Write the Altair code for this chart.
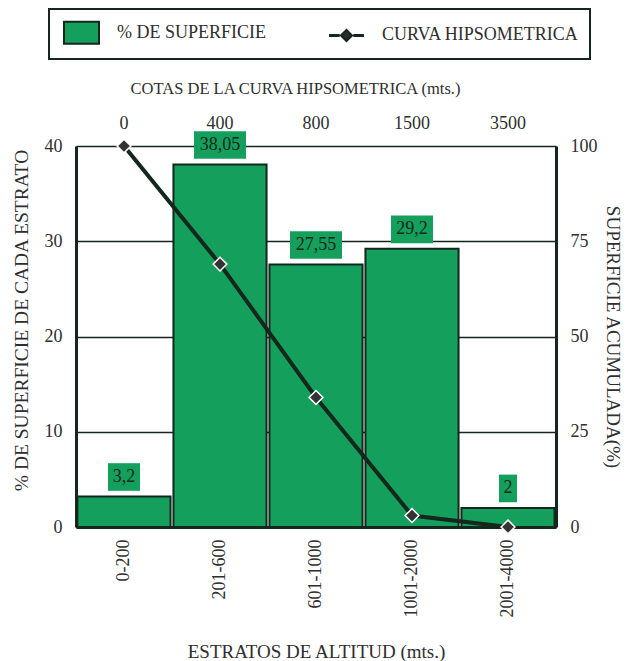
import altair as alt
import pandas as pd

# ---- data ----
estratos = ["0-200", "201-600", "601-1000", "1001-2000", "2001-4000"]
superficie = [3.2, 38.05, 27.55, 29.2, 2.0]
etiquetas = ["3,2", "38,05", "27,55", "29,2", "2"]
cotas = ["0", "400", "800", "1500", "3500"]
acumulada = [100, 69, 34, 3, 0]
series = ["% DE SUPERFICIE", "CURVA HIPSOMETRICA"]

GREEN = "#14a05c"
DARK = "#13271c"
TEXT = "#2e2e2e"
FONT = "Liberation Serif"
FS = 18

df = pd.DataFrame({"estrato": estratos, "sup": superficie, "etq": etiquetas, "acum": acumulada})
leg = pd.DataFrame({"serie": series, "estrato": [estratos[0]] * 2, "yy": [-50, -50]})

xscale = alt.Scale(domain=estratos, paddingInner=0.03, paddingOuter=0.015)
yleft = alt.Scale(domain=[0, 40])
yright = alt.Scale(domain=[0, 100])

top_expr = ("[" + ",".join(f"'{c}'" for c in cotas) + "][indexof(["
            + ",".join(f"'{e}'" for e in estratos) + "], datum.value)]")


def lab(title_size):
    return dict(labelFont=FONT, labelFontSize=FS, labelColor=TEXT,
                titleFont=FONT, titleFontSize=title_size, titleFontWeight="normal",
                titleColor=TEXT)


base = alt.Chart(df)

bars = base.mark_bar(color=GREEN, stroke=DARK, strokeWidth=2).encode(
    x=alt.X("estrato:N", scale=xscale, sort=estratos,
            axis=alt.Axis(orient="bottom", title="ESTRATOS DE ALTITUD (mts.)", labelAngle=-90,
                          ticks=False, domainColor=DARK, domainWidth=3, labelPadding=12,
                          titlePadding=26, **lab(19))),
    y=alt.Y("sup:Q", scale=yleft,
            axis=alt.Axis(orient="left", title="% DE SUPERFICIE DE CADA ESTRATO",
                          values=[0, 10, 20, 30, 40], grid=True, gridColor=DARK, gridWidth=1.5,
                          gridOpacity=1, ticks=False, domainColor=DARK, domainWidth=3,
                          labelPadding=14, titlePadding=13, titleY=174, **lab(19.5))),
)

boxes = base.transform_calculate(
    y0="datum.sup + 0.6", y1="datum.sup + 3.5", w="max(18, 10*length(datum.etq) + 2)"
).mark_bar(color=GREEN).encode(
    x=alt.X("estrato:N", scale=xscale, sort=estratos, axis=None),
    y=alt.Y("y0:Q", scale=yleft, axis=None),
    y2="y1:Q",
    size=alt.Size("w:Q", scale=None, legend=None),
)

texts = base.mark_text(font=FONT, fontSize=FS, color=DARK, baseline="middle", dy=-20).encode(
    x=alt.X("estrato:N", scale=xscale, sort=estratos, axis=None),
    y=alt.Y("sup:Q", scale=yleft, axis=None),
    text="etq:N",
)

line = base.mark_line(color=DARK, strokeWidth=4).encode(
    x=alt.X("estrato:N", scale=xscale, sort=estratos,
            axis=alt.Axis(orient="top", title="COTAS DE LA CURVA HIPSOMETRICA (mts.)",
                          labelExpr=top_expr, labelAngle=0, ticks=False, domain=False,
                          labelPadding=14, titlePadding=18, titleX=219, titleAlign="center",
                          **lab(16.5))),
    y=alt.Y("acum:Q", scale=yright,
            axis=alt.Axis(orient="right", title="SUPERFICIE ACUMULADA(%)",
                          values=[0, 25, 50, 75, 100], grid=False, ticks=False,
                          domainColor=DARK, domainWidth=3, labelPadding=14,
                          titlePadding=5, titleAngle=90, **lab(19))),
)

points = base.mark_point(shape="diamond", filled=True, size=190, fill="#333333",
                         stroke="white", strokeWidth=1.5, opacity=1).encode(
    x=alt.X("estrato:N", scale=xscale, sort=estratos, axis=None),
    y=alt.Y("acum:Q", scale=yright, axis=None),
)

SQ = "M-1.565,-0.984H1.565V0.984H-1.565Z"
DI = ("M-1.47,-0.05H-0.7V0.05H-1.47Z M0.7,-0.05H1.47V0.05H0.7Z "
      "M0,-0.5L0.5,0L0,0.5L-0.5,0Z")

legcfg = dict(title=None, orient="none", legendX=-27, legendY=-137, direction="horizontal",
              labelFont=FONT, labelFontSize=FS, labelColor=TEXT, labelLimit=400,
              symbolSize=500, symbolStrokeColor=DARK, symbolStrokeWidth=2,
              strokeColor=DARK, padding=11, columnPadding=58, labelOffset=23,
              symbolOffset=9, fillColor="white")

dummy = alt.Chart(leg).mark_point(filled=True, clip=True, opacity=1).encode(
    x=alt.X("estrato:N", scale=xscale, sort=estratos, axis=None),
    y=alt.Y("yy:Q", scale=yright, axis=None),
    color=alt.Color("serie:N", scale=alt.Scale(domain=series, range=[GREEN, "#2a2a2a"]),
                    legend=alt.Legend(**legcfg)),
    shape=alt.Shape("serie:N", scale=alt.Scale(domain=series, range=[SQ, DI]),
                    legend=alt.Legend(**legcfg)),
)

chart = alt.layer(bars, boxes, texts, line, points, dummy).resolve_scale(
    y="independent"
).resolve_axis(
    x="independent"
).properties(
    width=480, height=381,
    padding={"left": 68, "top": 138, "right": 69, "bottom": 134},
    autosize=alt.AutoSizeParams(type="none"),
).configure(background="white").configure_view(stroke=None).configure_legend(strokeWidth=2)

chart.save("out.html", embed_options={"renderer": "svg", "actions": False})
